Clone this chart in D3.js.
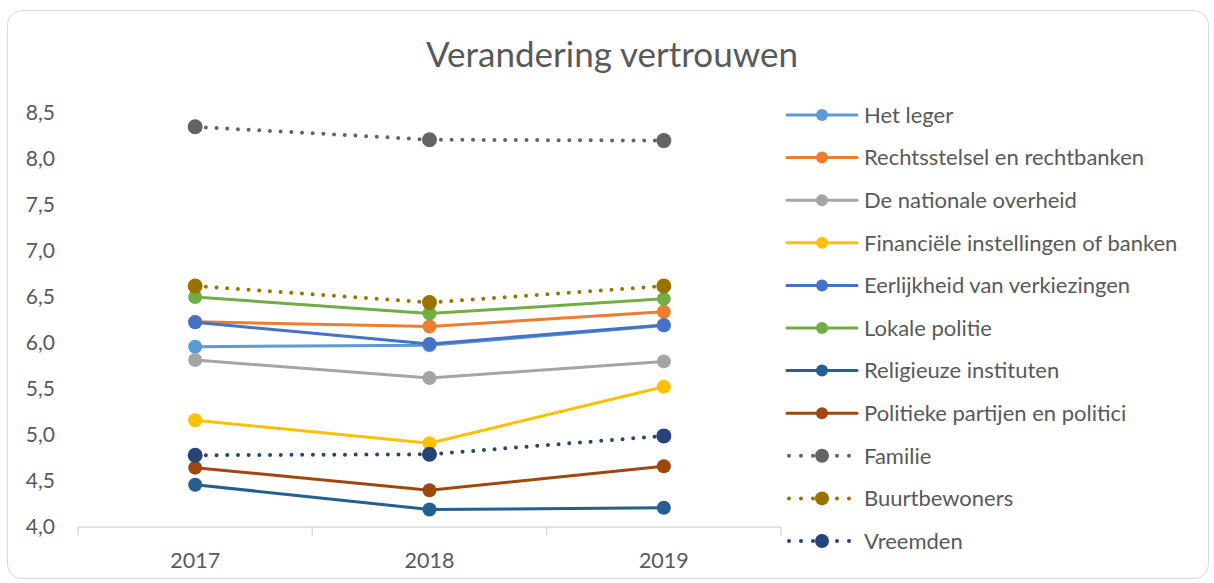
<!DOCTYPE html>
<html>
<head>
<meta charset="utf-8">
<title>Verandering vertrouwen</title>
<script src="https://d3js.org/d3.v7.min.js"></script>
<style>
  body { margin: 0; background: #fff; }
  text { font-family: Lato, "Open Sans", sans-serif; fill: #595959; }
</style>
</head>
<body>
<svg id="chart" width="1214" height="583"></svg>
<script>
// data
var years = ["2017", "2018", "2019"];
var seriesNames = ["Het leger", "Rechtsstelsel en rechtbanken", "De nationale overheid",
  "Financiële instellingen of banken", "Eerlijkheid van verkiezingen", "Lokale politie",
  "Religieuze instituten", "Politieke partijen en politici", "Familie", "Buurtbewoners", "Vreemden"];
var hetLeger = [5.96, 5.975, 6.19];
var rechtsstelsel = [6.23, 6.18, 6.34];
var nationaleOverheid = [5.815, 5.62, 5.80];
var financieel = [5.16, 4.91, 5.525];
var verkiezingen = [6.225, 5.99, 6.195];
var lokalePolitie = [6.50, 6.32, 6.48];
var religieus = [4.46, 4.19, 4.21];
var politiek = [4.645, 4.40, 4.66];
var familie = [8.35, 8.21, 8.20];
var buurtbewoners = [6.62, 6.44, 6.62];
var vreemden = [4.78, 4.79, 4.99];
var yTicks = [4.0, 4.5, 5.0, 5.5, 6.0, 6.5, 7.0, 7.5, 8.0, 8.5];

var colors = ["#5B9BD5", "#ED7D31", "#A5A5A5", "#FFC000", "#4472C4", "#70AD47",
  "#255E91", "#9E480E", "#636363", "#997300", "#264478"];
var dotted = [false, false, false, false, false, false, false, false, true, true, true];
var allValues = [hetLeger, rechtsstelsel, nationaleOverheid, financieel, verkiezingen,
  lokalePolitie, religieus, politiek, familie, buurtbewoners, vreemden];

var series = seriesNames.map(function(n, i) {
  return { name: n, values: allValues[i], color: colors[i], dotted: dotted[i] };
});

var svg = d3.select("#chart");

// chart frame
svg.append("rect")
  .attr("x", 7.5).attr("y", 10.5)
  .attr("width", 1201).attr("height", 568)
  .attr("rx", 14)
  .attr("fill", "#fff")
  .attr("stroke", "#d9d9d9")
  .attr("stroke-width", 1);

svg.append("text")
  .attr("x", 612).attr("y", 67)
  .attr("text-anchor", "middle")
  .style("font-size", "35px")
  .text("Verandering vertrouwen");

var x = d3.scaleBand().domain(years).range([78, 781]);
var y = d3.scaleLinear().domain([4, 8.5]).range([527, 113]);

// y labels (no axis line)
var yAxis = d3.axisLeft(y).tickValues(yTicks).tickSize(0).tickPadding(0)
  .tickFormat(function(d) { return d3.format(".1f")(d).replace(".", ","); });
var gy = svg.append("g").attr("transform", "translate(55,0)").call(yAxis);
gy.select(".domain").remove();
gy.selectAll("text").style("font-size", "21px").attr("fill", "#595959")
  .style("font-family", "Lato, sans-serif");

// x axis
var xAxis = d3.axisBottom(x).tickSize(0).tickPadding(26);
var gx = svg.append("g").attr("transform", "translate(0,527)").call(xAxis);
gx.select(".domain").attr("stroke", "#d9d9d9").attr("stroke-width", 1.5).attr("d", "M78,0H781");
gx.selectAll("text").style("font-size", "21.5px").attr("fill", "#595959")
  .style("font-family", "Lato, sans-serif");
var boundaries = [0, 1, 2, 3].map(function(i) { return 78 + i * x.step(); });
gx.selectAll(".bound").data(boundaries).enter().append("line")
  .attr("x1", function(d) { return d; }).attr("x2", function(d) { return d; })
  .attr("y1", 0).attr("y2", 8)
  .attr("stroke", "#d9d9d9").attr("stroke-width", 1.5);

var line = d3.line()
  .x(function(d, i) { return x(years[i]) + x.bandwidth() / 2; })
  .y(function(d) { return y(d); });

var g = svg.append("g");
series.forEach(function(s) {
  g.append("path")
    .attr("d", line(s.values))
    .attr("fill", "none")
    .attr("stroke", s.color)
    .attr("stroke-width", s.dotted ? 4 : 3)
    .attr("stroke-linecap", "round")
    .attr("stroke-dasharray", s.dotted ? "0,10.7" : null);
  g.selectAll(null).data(s.values).enter().append("circle")
    .attr("cx", function(d, i) { return x(years[i]) + x.bandwidth() / 2; })
    .attr("cy", function(d) { return y(d); })
    .attr("r", s.dotted ? 7.5 : 7)
    .attr("fill", s.color);
});

// legend
var legend = svg.append("g");
var rows = legend.selectAll("g").data(series).enter().append("g")
  .attr("transform", function(d, i) { return "translate(787," + (115 + i * 42.6) + ")"; });
rows.append("line")
  .attr("x1", function(d) { return d.dotted ? 2 : 0; })
  .attr("x2", function(d) { return d.dotted ? 66 : 70; })
  .attr("y1", 0).attr("y2", 0)
  .attr("stroke", function(d) { return d.color; })
  .attr("stroke-width", function(d) { return d.dotted ? 4 : 3; })
  .attr("stroke-linecap", "round")
  .attr("stroke-dasharray", function(d) { return d.dotted ? "0,12" : null; });
rows.append("circle")
  .attr("cx", 35).attr("cy", 0)
  .attr("r", function(d) { return d.dotted ? 7 : 6; })
  .attr("fill", function(d) { return d.color; });
rows.append("text")
  .attr("x", 77).attr("y", 0).attr("dy", "0.35em")
  .style("font-size", "22px")
  .text(function(d) { return d.name; });
</script>
</body>
</html>
